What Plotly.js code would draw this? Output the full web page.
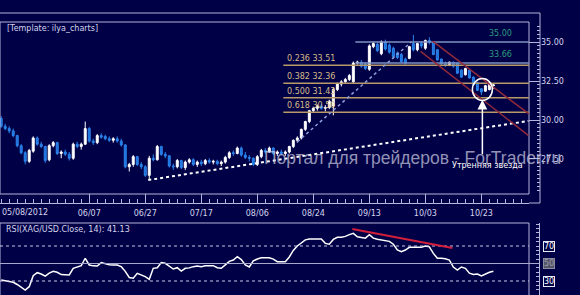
<!DOCTYPE html>
<html><head><meta charset="utf-8">
<script src="https://cdn.plot.ly/plotly-3.0.1.min.js"></script>
<style>html,body{margin:0;padding:0;background:#000046;overflow:hidden}</style>
</head><body><div id="chart" style="width:580px;height:295px"></div>
<script>
// ---- data (trading-day candles, XAG/USD daily) ----
const opens = [30.10,29.60,29.45,29.30,29.00,28.35,27.90,27.35,28.00,28.85,28.45,28.30,27.45,28.35,28.55,27.85,27.95,27.80,27.55,28.45,
28.30,28.45,29.45,28.65,28.55,29.00,28.95,28.80,28.70,28.80,28.65,28.40,27.00,27.15,27.65,27.15,27.00,26.45,27.55,27.45,
28.30,27.80,27.70,27.05,27.00,27.40,26.95,27.30,27.45,27.15,27.30,27.20,27.40,27.30,27.35,27.20,27.30,27.60,27.90,27.85,
28.20,27.75,27.60,27.55,27.15,27.65,28.05,27.95,28.20,27.85,27.95,27.85,27.95,28.30,28.70,28.85,29.40,29.90,30.60,30.75,
30.90,30.75,30.80,30.90,31.95,32.30,32.45,32.60,32.45,33.65,33.70,33.60,33.25,34.70,34.85,34.25,35.00,34.80,34.60,34.30,
34.20,33.90,33.95,34.90,34.50,34.90,34.60,35.10,34.95,34.50,33.90,33.60,33.55,33.70,33.65,33.20,32.90,33.20,32.75,32.40,
32.00,31.85,31.95,32.20];
const highs = [30.25,29.75,29.60,29.45,29.05,28.45,28.00,28.15,28.95,28.95,28.60,28.35,28.45,28.65,28.60,28.05,28.10,27.95,28.55,28.60,
28.55,29.90,29.55,28.80,29.10,29.15,29.05,28.95,28.90,28.95,28.80,28.45,27.25,27.75,27.70,27.30,27.10,27.70,27.80,28.40,
28.35,27.95,27.75,27.20,27.50,27.45,27.40,27.55,27.55,27.40,27.45,27.50,27.55,27.45,27.45,27.40,27.70,28.00,28.05,28.30,
28.30,27.95,27.75,27.60,27.75,28.15,28.20,28.30,28.25,28.05,28.10,28.05,28.35,28.75,28.95,29.45,29.95,30.65,30.85,31.00,
31.05,30.95,31.30,32.10,32.40,32.55,32.70,32.95,33.75,33.80,33.85,33.70,34.85,35.00,34.95,35.10,35.15,34.90,34.70,34.40,
34.30,34.00,34.75,35.45,34.95,35.05,35.15,35.30,35.00,34.55,33.95,33.75,33.75,33.75,33.70,33.25,33.35,33.25,32.80,32.45,
32.05,32.25,32.45,32.35];
const lows = [29.50,29.35,29.15,28.90,28.25,27.80,27.15,27.25,27.90,28.35,28.20,27.25,27.35,28.25,27.75,27.55,27.70,27.40,27.45,28.20,
28.10,28.40,28.55,28.40,28.45,28.80,28.70,28.60,28.55,28.55,28.30,26.90,26.70,27.00,27.05,26.85,26.35,26.15,27.35,27.40,
27.70,27.55,26.95,26.80,26.90,26.85,26.80,27.20,27.05,27.00,27.05,27.10,27.20,27.15,27.10,27.05,27.20,27.50,27.70,27.80,
27.65,27.50,27.35,27.05,27.05,27.55,27.85,27.90,27.75,27.70,27.75,27.70,27.85,28.20,28.55,28.75,29.30,29.80,30.45,30.60,
30.65,30.55,30.70,30.30,31.85,32.15,32.35,32.50,32.35,33.55,33.35,33.20,33.15,34.60,34.35,34.15,34.45,34.25,33.95,33.90,
33.65,33.55,33.90,34.40,34.40,34.60,34.50,34.85,34.15,33.80,33.55,33.40,33.45,33.35,32.95,32.70,32.85,32.65,32.20,31.85,
31.60,31.80,31.90,32.00];
const closes = [29.60,29.45,29.30,29.00,28.35,27.90,27.35,28.05,28.85,28.45,28.30,27.40,28.35,28.55,27.85,27.95,27.80,27.55,28.45,28.30,
28.45,29.45,28.65,28.55,29.00,28.90,28.80,28.70,28.80,28.65,28.40,27.00,27.15,27.65,27.15,27.00,26.45,27.55,27.45,28.30,
27.80,27.70,27.05,27.00,27.40,26.95,27.30,27.45,27.15,27.30,27.20,27.40,27.30,27.35,27.20,27.30,27.60,27.90,27.85,28.20,
27.75,27.60,27.55,27.15,27.65,28.05,27.95,28.20,27.85,27.95,27.85,27.95,28.30,28.70,28.85,29.40,29.90,30.60,30.75,30.90,
30.75,30.80,31.20,31.95,32.30,32.45,32.60,32.85,33.65,33.70,33.45,33.30,34.75,34.90,34.45,35.00,34.55,34.35,34.05,34.00,
33.75,33.65,34.70,34.50,34.90,34.75,35.10,35.00,34.20,33.85,33.60,33.55,33.70,33.45,33.00,32.75,33.30,32.70,32.25,31.90,
31.80,32.20,32.40,32.25];
const rsi = [31.1,30.0,29.5,28.5,26.0,23.0,19.7,23.5,36.0,39.5,38.0,35.5,39.0,41.0,40.0,37.3,36.9,36.9,44.5,46.0,
47.5,56.0,48.3,47.3,47.1,51.0,49.5,48.5,48.3,48.3,46.4,41.0,34.0,33.1,38.8,37.0,35.0,31.9,44.5,45.2,
51.0,50.2,46.4,43.7,45.2,41.4,44.5,45.0,46.4,47.1,46.4,47.5,47.5,47.5,45.2,44.5,48.5,52.5,54.0,57.8,
54.5,48.3,46.0,53.0,55.1,56.5,56.7,56.5,55.0,52.1,52.1,52.1,57.5,65.0,70.0,74.0,77.0,78.0,78.0,78.0,
78.0,73.0,72.0,77.5,80.0,80.0,81.0,83.0,84.5,80.5,79.5,79.0,83.0,79.0,77.8,77.0,76.0,75.3,72.0,65.5,
63.5,65.4,68.5,68.5,68.5,68.5,70.0,69.0,61.6,56.0,56.0,55.5,54.0,46.0,42.5,46.0,44.5,39.0,37.5,38.0,
35.7,38.0,40.0,41.13];
const tickIdx = [22,36,50,64,78,92,106,120];
const tickLabels = ['06/07','06/27','07/17','08/06','08/24','09/13','10/03','10/23'];
const firstDate = '05/08/2012';
const priceTicks = [27.5,30,32.5,35];
const priceTickText = ['27.50','30.00','32.50','35.00'];
const fibRatios = ['0.236','0.382','0.500','0.618'];
const fibLevels = [33.51,32.36,31.43,30.50];
const targetLevels = [35.00,33.66];
const rsiLevels = [70,50,30];
const rsiLast = 41.13;

const days = closes.map((_, i) => i);
const XR = [-0.3, 131.9];
const W = 580, H = 295;
const px = v => v / W, py = v => 1 - v / H;
const frame = '#b4b4dc';
const font = {family:'DejaVu Sans', size:8, color:'#d4d4ec'};

const traces = [
 {type:'candlestick', x:days, open:opens, high:highs, low:lows, close:closes, xaxis:'x', yaxis:'y',
  increasing:{line:{color:'#ffffff', width:1}, fillcolor:'#ffffff'},
  decreasing:{line:{color:'#2c86ee', width:1}, fillcolor:'#1f6fd8'},
  whiskerwidth:0, hoverinfo:'skip', showlegend:false},
 {type:'scatter', mode:'lines', x:days, y:rsi, xaxis:'x2', yaxis:'y2',
  line:{color:'#ffffff', width:1.5}, hoverinfo:'skip', showlegend:false}
];

const shapes = [];
// frames
shapes.push({type:'rect', xref:'paper', yref:'paper', x0:0, x1:px(529), y0:py(194), y1:py(22), line:{color:frame, width:1}, layer:'above'});
shapes.push({type:'line', xref:'paper', yref:'paper', x0:0, x1:px(540), y0:py(13), y1:py(13), line:{color:frame, width:1}});
shapes.push({type:'line', xref:'paper', yref:'paper', x0:px(540), x1:px(540), y0:py(203), y1:py(13), line:{color:frame, width:1}});
shapes.push({type:'line', xref:'paper', yref:'paper', x0:px(529), x1:px(540), y0:py(203), y1:py(203), line:{color:frame, width:1}});
shapes.push({type:'rect', xref:'paper', yref:'paper', x0:0, x1:px(529), y0:-0.05, y1:py(223), line:{color:frame, width:1}});
// fib lines
fibLevels.forEach(l => shapes.push({type:'line', xref:'x', yref:'y', x0:70.5, x1:XR[1], y0:l, y1:l, line:{color:'#b79a68', width:1.5}}));
// target lines
targetLevels.forEach(l => shapes.push({type:'line', xref:'x', yref:'y', x0:88.5, x1:XR[1], y0:l, y1:l, line:{color:'#7f93c0', width:1.5}}));
// support trend line (dotted)
shapes.push({type:'line', xref:'x', yref:'y', x0:36.75, y0:26.15, x1:131.75, y1:29.94, line:{color:'#ffffff', width:2, dash:'dot'}});
// rally trend line (dotted)
shapes.push({type:'line', xref:'x', yref:'y', x0:74, y0:28.6, x1:102.5, y1:35.0, line:{color:'#8fa0d8', width:1.5, dash:'dot'}});
// red channel
shapes.push({type:'line', xref:'x', yref:'y', x0:107.8, y0:35.05, x1:131.8, y1:30.4, line:{color:'#8e2a3c', width:1.5}});
shapes.push({type:'line', xref:'x', yref:'y', x0:104.8, y0:34.4, x1:131.8, y1:29.0, line:{color:'#8e2a3c', width:1.5}});
// circle around morning star
shapes.push({type:'circle', xref:'x', yref:'y', xsizemode:'pixel', ysizemode:'pixel', xanchor:120.25, yanchor:31.95,
  x0:-10, x1:10, y0:-11, y1:11, line:{color:'#ffffff', width:1.5}});
// RSI levels
shapes.push({type:'line', xref:'paper', yref:'y2', x0:0, x1:px(529), y0:70, y1:70, line:{color:'#c8c8e8', width:1, dash:'dot'}});
shapes.push({type:'line', xref:'paper', yref:'y2', x0:0, x1:px(539), y0:50, y1:50, line:{color:'#a8a8cc', width:1}});
shapes.push({type:'line', xref:'paper', yref:'y2', x0:0, x1:px(529), y0:30, y1:30, line:{color:'#c8c8e8', width:1, dash:'dot'}});
// RSI divergence
shapes.push({type:'line', xref:'x2', yref:'y2', x0:87.75, y0:89.4, x1:112.75, y1:67.7, line:{color:'#d21f3c', width:2}});

const annotations = [];
annotations.push({xref:'paper', yref:'paper', x:px(5), y:py(28), xanchor:'left', yanchor:'middle', text:'[Template: ilya_charts]', showarrow:false, font:font});
fibLevels.forEach((l, k) => annotations.push({xref:'x', yref:'y', x:70.8, y:l, xanchor:'left', yanchor:'bottom', yshift:0,
  text:fibRatios[k] + ' ' + l.toFixed(2), showarrow:false, font:{family:'DejaVu Sans', size:8, color:'#d6bc86'}}));
targetLevels.forEach(l => annotations.push({xref:'x', yref:'y', x:121.5, y:l, xanchor:'left', yanchor:'bottom', yshift:2,
  text:l.toFixed(2), showarrow:false, font:{family:'DejaVu Sans', size:8, color:'#2f9c7e'}}));
annotations.push({xref:'x', yref:'y', x:120.25, y:31.3, ax:0, ay:56, axref:'pixel', ayref:'pixel', text:'', showarrow:true,
  arrowhead:2, arrowsize:1.3, arrowwidth:1.5, arrowcolor:'#ffffff'});
annotations.push({xref:'paper', yref:'paper', x:px(487), y:py(165), xanchor:'center', yanchor:'middle', text:'Утренняя звезда', showarrow:false,
  font:{family:'DejaVu Sans', size:8, color:'#ffffff'}});
annotations.push({xref:'paper', xanchor:'left', x:0, yref:'paper', y:py(212), yanchor:'middle', text:firstDate, showarrow:false, font:font});
annotations.push({xref:'paper', yref:'paper', x:px(4), y:py(229), xanchor:'left', yanchor:'middle', text:'RSI(XAG/USD.Close, 14): ' + rsiLast.toFixed(2), showarrow:false, font:font});
rsiLevels.forEach(l => annotations.push({xref:'paper', yref:'y2', x:px(543), y:l, xanchor:'left', yanchor:'middle', text:String(l), showarrow:false,
  font:{family:'DejaVu Sans', size:8, color: l === 50 ? '#9a9aa8' : '#ffffff'}, bgcolor: l === 50 ? '#55556a' : '#000046',
  bordercolor: l === 50 ? '#8a8aa0' : '#e8e8f4', borderwidth:1, borderpad:0}));
annotations.push({xref:'paper', yref:'paper', x:px(262), y:py(158), xanchor:'left', yanchor:'middle', text:'Портал для трейдеров - ForTrader.ru', showarrow:false,
  font:{family:'Liberation Sans', size:17.5, color:'rgba(205,205,225,0.72)'}});

const layout = {
  width:W, height:H, margin:{l:0, r:0, t:0, b:0},
  paper_bgcolor:'#000046', plot_bgcolor:'#000046', showlegend:false,
  xaxis:{domain:[0, px(529)], range:XR, anchor:'free', position:py(203), showline:true, linecolor:frame, linewidth:1,
    ticks:'inside', ticklen:9, tickcolor:frame, tickvals:tickIdx, ticktext:tickLabels, tickfont:font, ticklabelstandoff:2,
    showgrid:false, zeroline:false, rangeslider:{visible:false}, fixedrange:true,
    minor:{tickmode:'linear', tick0:0, dtick:2, ticks:'inside', ticklen:4, tickcolor:frame, showgrid:false}},
  yaxis:{domain:[py(194), py(22)], range:[25.256, 36.282], anchor:'free', position:px(540), side:'right', showline:false,
    ticks:'inside', ticklen:11, tickcolor:frame, tickvals:priceTicks, ticktext:priceTickText, tickfont:font,
    showgrid:false, zeroline:false, fixedrange:true,
    minor:{tickmode:'linear', tick0:0, dtick:0.25, ticks:'inside', ticklen:3, tickcolor:frame, showgrid:false}},
  xaxis2:{domain:[0, px(529)], range:XR, anchor:'y2', visible:false, fixedrange:true},
  yaxis2:{domain:[0, py(223)], range:[14, 96.3], anchor:'free', position:px(539), side:'right', showline:true, linecolor:frame,
    ticks:'inside', ticklen:3, tickcolor:frame, tickvals:rsiLevels, showticklabels:false, showgrid:false, zeroline:false, fixedrange:true,
    minor:{tickmode:'linear', tick0:0, dtick:5, ticks:'inside', ticklen:3, tickcolor:frame, showgrid:false}},
  shapes:shapes, annotations:annotations
};
Plotly.newPlot('chart', traces, layout, {staticPlot:true, displayModeBar:false});
</script></body></html>
